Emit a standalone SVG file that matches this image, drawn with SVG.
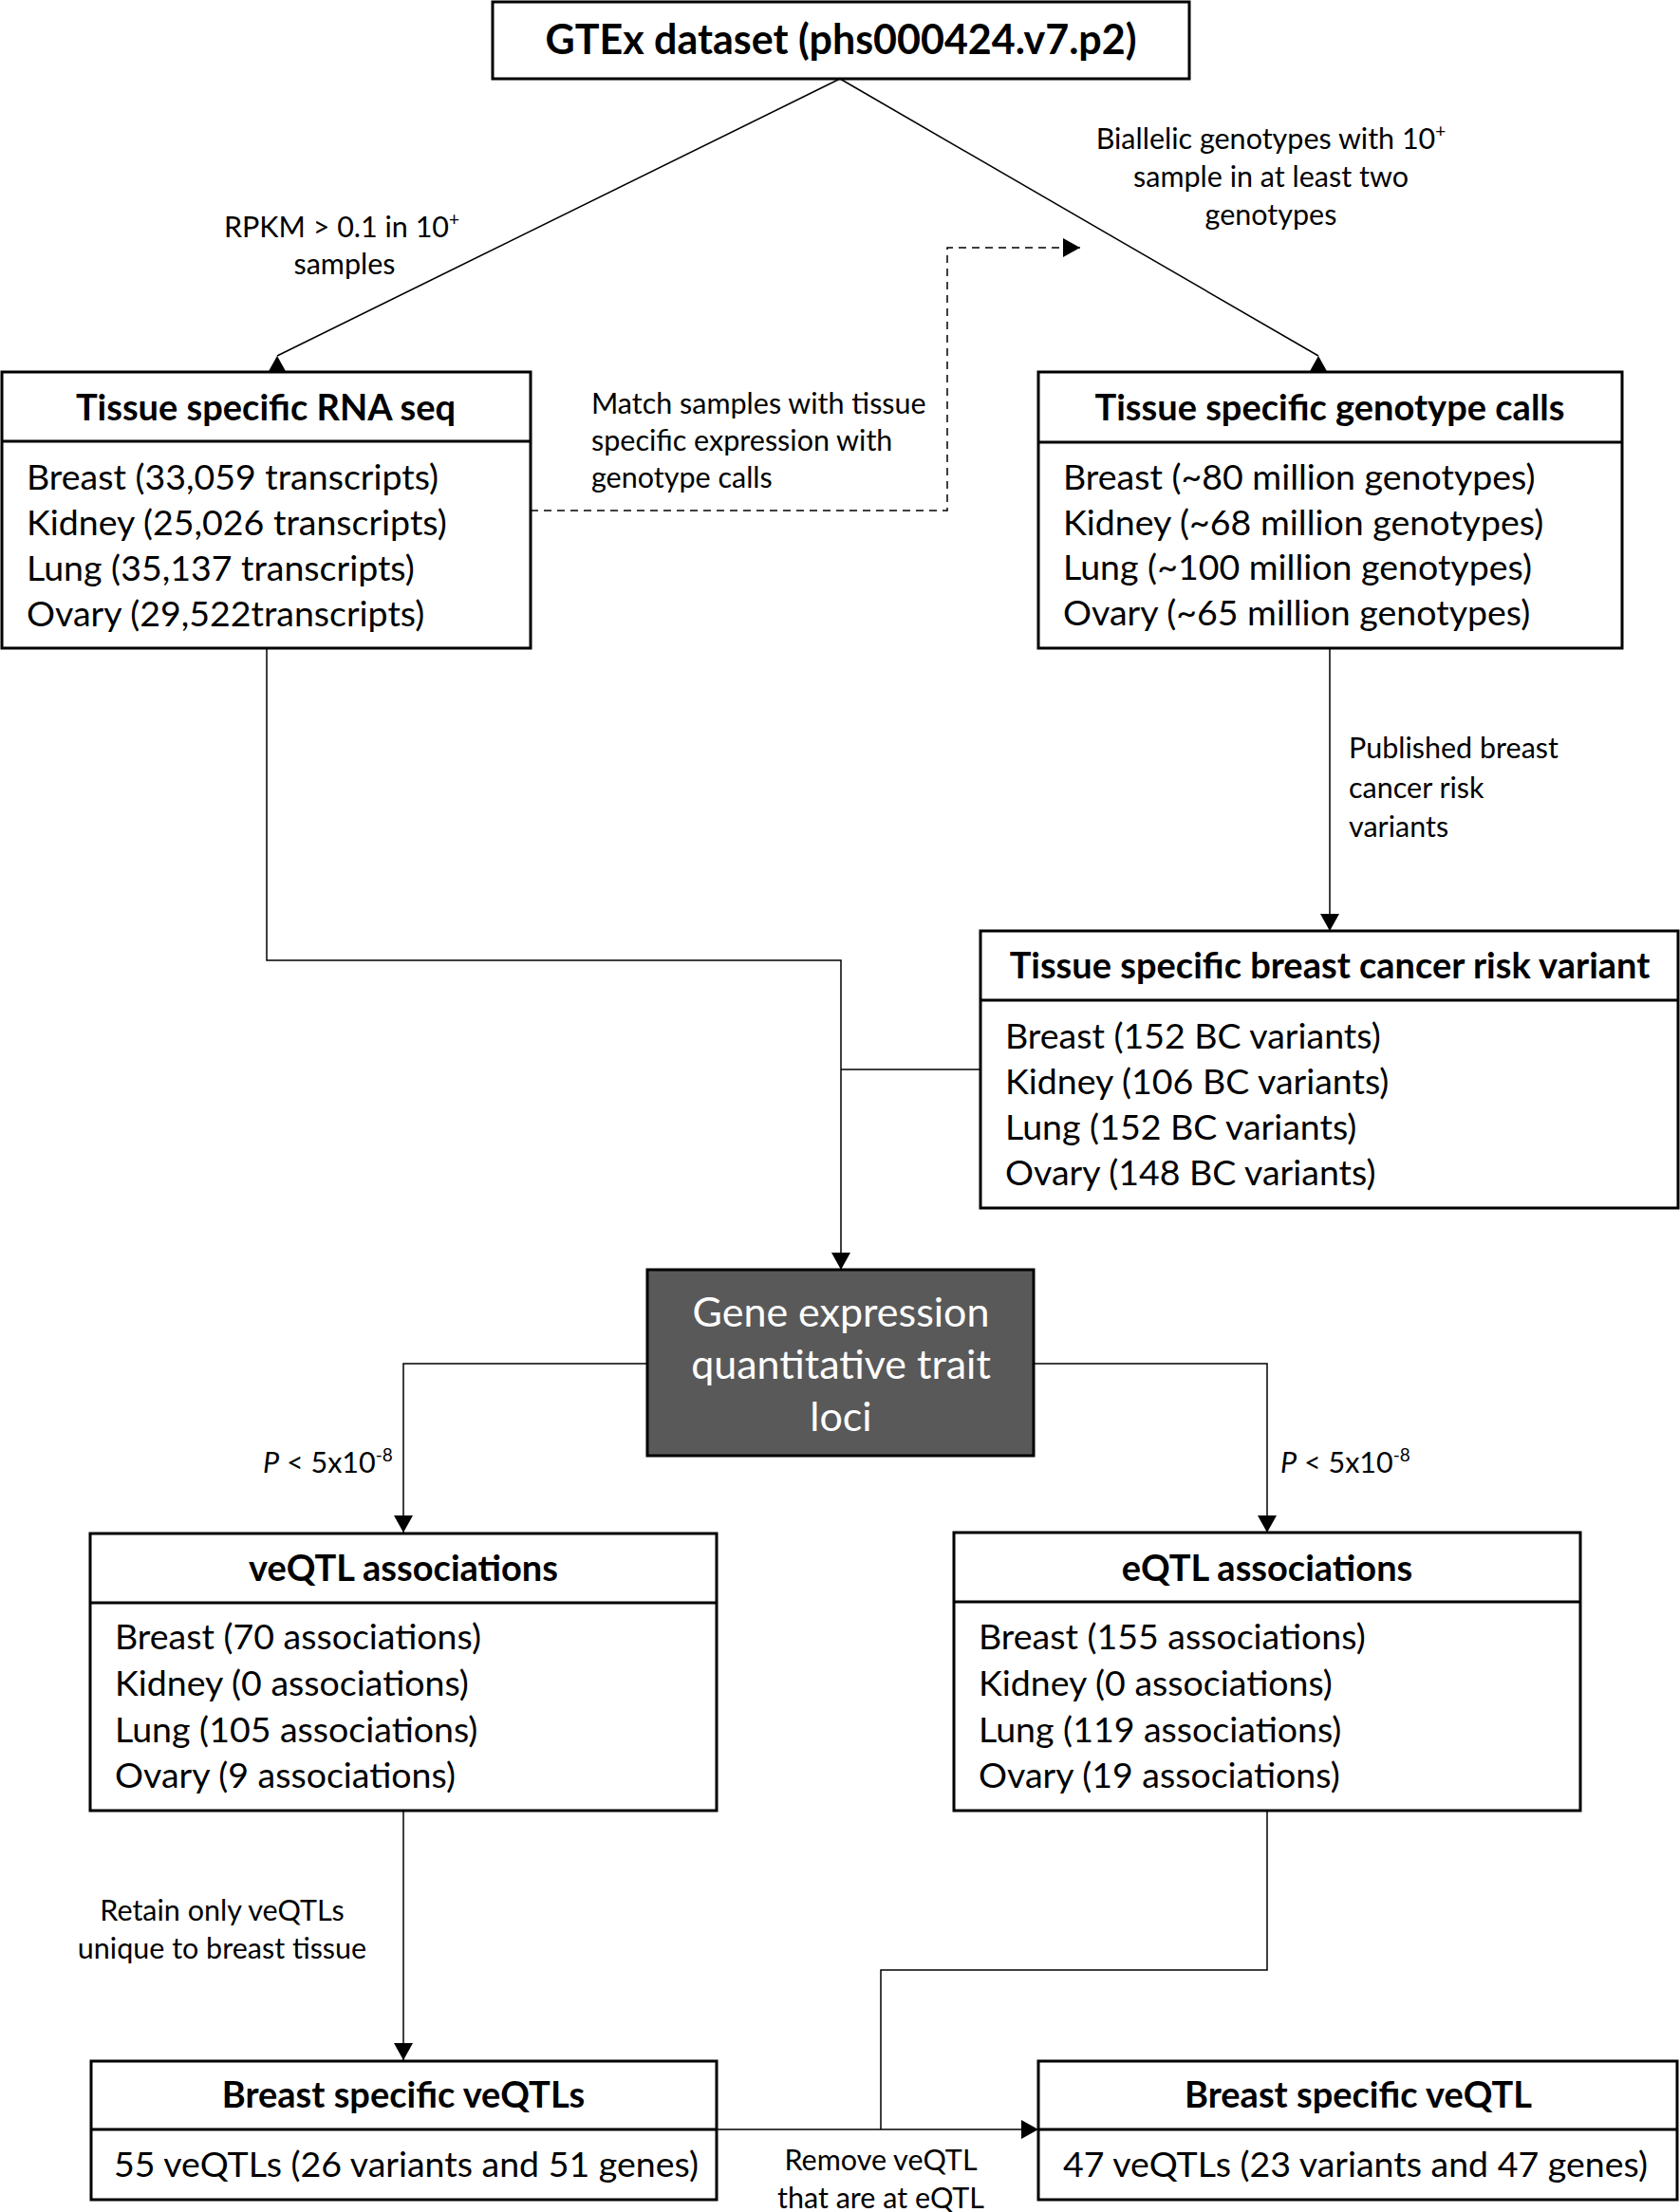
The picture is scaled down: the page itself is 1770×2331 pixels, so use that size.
<svg xmlns="http://www.w3.org/2000/svg" width="1770" height="2331" viewBox="0 0 1770 2331">
<style>
text{font-family:Lato,"Liberation Sans",sans-serif;fill:#000}
.title{font-size:43px;font-weight:700;text-anchor:middle}
.hdr{font-size:38px;font-weight:700;text-anchor:middle}
.item{font-size:37.5px}
.lbl{font-size:30.5px}
.mid{text-anchor:middle}
.geq{font-size:43px;fill:#fff;text-anchor:middle}
.box{fill:#fff;stroke:#000;stroke-width:3}
.div{stroke:#000;stroke-width:3}
.con{fill:none;stroke:#000;stroke-width:1.5}
.dash{stroke-dasharray:8 6}
</style>
<defs>
<marker id="arr" markerUnits="userSpaceOnUse" markerWidth="18" markerHeight="20" refX="18" refY="10" orient="auto"><path d="M0,0 L18,10 L0,20 Z" fill="#000"/></marker>
<marker id="triup" markerUnits="userSpaceOnUse" markerWidth="22" markerHeight="19" refX="11" refY="0" orient="0"><path d="M11,0 L21,18 L1,18 Z" fill="#000"/></marker>
</defs>
<rect width="1770" height="2331" fill="#fff"/>
<g id="connectors">
<path class="con" d="M885,83 L292,375" marker-end="url(#triup)"/>
<path class="con" d="M885,83 L1389,375" marker-end="url(#triup)"/>
<path class="con dash" d="M559,538 H998 V261 H1138" marker-end="url(#arr)"/>
<path class="con" d="M1401,684 V981" marker-end="url(#arr)"/>
<path class="con" d="M281,684 V1012 H886 V1338" marker-end="url(#arr)"/>
<path class="con" d="M1033,1127 H886"/>
<path class="con" d="M682,1437 H425 V1615" marker-end="url(#arr)"/>
<path class="con" d="M1089,1437 H1335 V1615" marker-end="url(#arr)"/>
<path class="con" d="M425,1908 V2171" marker-end="url(#arr)"/>
<path class="con" d="M1335,1908 V2076 H928 V2244"/>
<path class="con" d="M755,2244 H1094" marker-end="url(#arr)"/>
<text class="lbl mid" x="360" y="250">RPKM &gt; 0.1 in 10<tspan font-size="19" dy="-12">+</tspan></text>
<text class="lbl mid" x="363" y="289">samples</text>
<text class="lbl mid" x="1339" y="157">Biallelic genotypes with 10<tspan font-size="19" dy="-12">+</tspan></text>
<text class="lbl mid" x="1339" y="197">sample in at least two</text>
<text class="lbl mid" x="1339" y="237">genotypes</text>
<text class="lbl" x="623" y="436">Match samples with tissue</text>
<text class="lbl" x="623" y="475">specific expression with</text>
<text class="lbl" x="623" y="514">genotype calls</text>
<text class="lbl" x="1421" y="799">Published breast</text>
<text class="lbl" x="1421" y="841">cancer risk</text>
<text class="lbl" x="1421" y="882">variants</text>
<text class="lbl" x="277" y="1552"><tspan font-style="italic">P</tspan> &lt; 5x10<tspan font-size="19" dy="-12">-8</tspan></text>
<text class="lbl" x="1349" y="1552"><tspan font-style="italic">P</tspan> &lt; 5x10<tspan font-size="19" dy="-12">-8</tspan></text>
<text class="lbl mid" x="234" y="2024">Retain only veQTLs</text>
<text class="lbl mid" x="234" y="2064">unique to breast tissue</text>
<text class="lbl mid" x="928" y="2287">Remove veQTL</text>
<text class="lbl mid" x="928" y="2327">that are at eQTL</text>
</g>
<g id="gtex">
<rect class="box" x="519" y="2" width="734" height="81"/>
<text class="title" x="886" y="57">GTEx dataset (phs000424.v7.p2)</text>
</g>
<g id="rnaseq">
<rect class="box" x="2" y="392" width="557" height="291"/>
<line class="div" x1="2" y1="465" x2="559" y2="465"/>
<text class="hdr" x="280" y="443">Tissue specific RNA seq</text>
<text class="item" x="28" y="516">Breast (33,059 transcripts)</text>
<text class="item" x="28" y="564">Kidney (25,026 transcripts)</text>
<text class="item" x="28" y="612">Lung (35,137 transcripts)</text>
<text class="item" x="28" y="660">Ovary (29,522transcripts)</text>
</g>
<g id="genotype">
<rect class="box" x="1094" y="392" width="615" height="291"/>
<line class="div" x1="1094" y1="466" x2="1709" y2="466"/>
<text class="hdr" x="1401" y="443">Tissue specific genotype calls</text>
<text class="item" x="1120" y="516">Breast (~80 million genotypes)</text>
<text class="item" x="1120" y="564">Kidney (~68 million genotypes)</text>
<text class="item" x="1120" y="611">Lung (~100 million genotypes)</text>
<text class="item" x="1120" y="659">Ovary (~65 million genotypes)</text>
</g>
<g id="bcvariant">
<rect class="box" x="1033" y="981" width="735" height="292"/>
<line class="div" x1="1033" y1="1054" x2="1768" y2="1054"/>
<text class="hdr" x="1401" y="1031">Tissue specific breast cancer risk variant</text>
<text class="item" x="1059" y="1105">Breast (152 BC variants)</text>
<text class="item" x="1059" y="1153">Kidney (106 BC variants)</text>
<text class="item" x="1059" y="1201">Lung (152 BC variants)</text>
<text class="item" x="1059" y="1249">Ovary (148 BC variants)</text>
</g>
<g id="geq">
<rect x="682" y="1338" width="407" height="196" fill="#595959" stroke="#000" stroke-width="3"/>
<text class="geq" x="886" y="1398">Gene expression</text>
<text class="geq" x="886" y="1453">quantitative trait</text>
<text class="geq" x="886" y="1508">loci</text>
</g>
<g id="veqtl">
<rect class="box" x="95" y="1616" width="660" height="292"/>
<line class="div" x1="95" y1="1689" x2="755" y2="1689"/>
<text class="hdr" x="425" y="1666">veQTL associations</text>
<text class="item" x="121" y="1738">Breast (70 associations)</text>
<text class="item" x="121" y="1787">Kidney (0 associations)</text>
<text class="item" x="121" y="1836">Lung (105 associations)</text>
<text class="item" x="121" y="1884">Ovary (9 associations)</text>
</g>
<g id="eqtl">
<rect class="box" x="1005" y="1615" width="660" height="293"/>
<line class="div" x1="1005" y1="1688" x2="1665" y2="1688"/>
<text class="hdr" x="1335" y="1666">eQTL associations</text>
<text class="item" x="1031" y="1738">Breast (155 associations)</text>
<text class="item" x="1031" y="1787">Kidney (0 associations)</text>
<text class="item" x="1031" y="1836">Lung (119 associations)</text>
<text class="item" x="1031" y="1884">Ovary (19 associations)</text>
</g>
<g id="bs-veqtls">
<rect class="box" x="96" y="2172" width="659" height="146"/>
<line class="div" x1="96" y1="2244" x2="755" y2="2244"/>
<text class="hdr" x="425" y="2221">Breast specific veQTLs</text>
<text class="item" x="120" y="2294">55 veQTLs (26 variants and 51 genes)</text>
</g>
<g id="bs-veqtl">
<rect class="box" x="1094" y="2172" width="673" height="146"/>
<line class="div" x1="1094" y1="2244" x2="1767" y2="2244"/>
<text class="hdr" x="1431" y="2221">Breast specific veQTL</text>
<text class="item" x="1120" y="2294">47 veQTLs (23 variants and 47 genes)</text>
</g>
</svg>
